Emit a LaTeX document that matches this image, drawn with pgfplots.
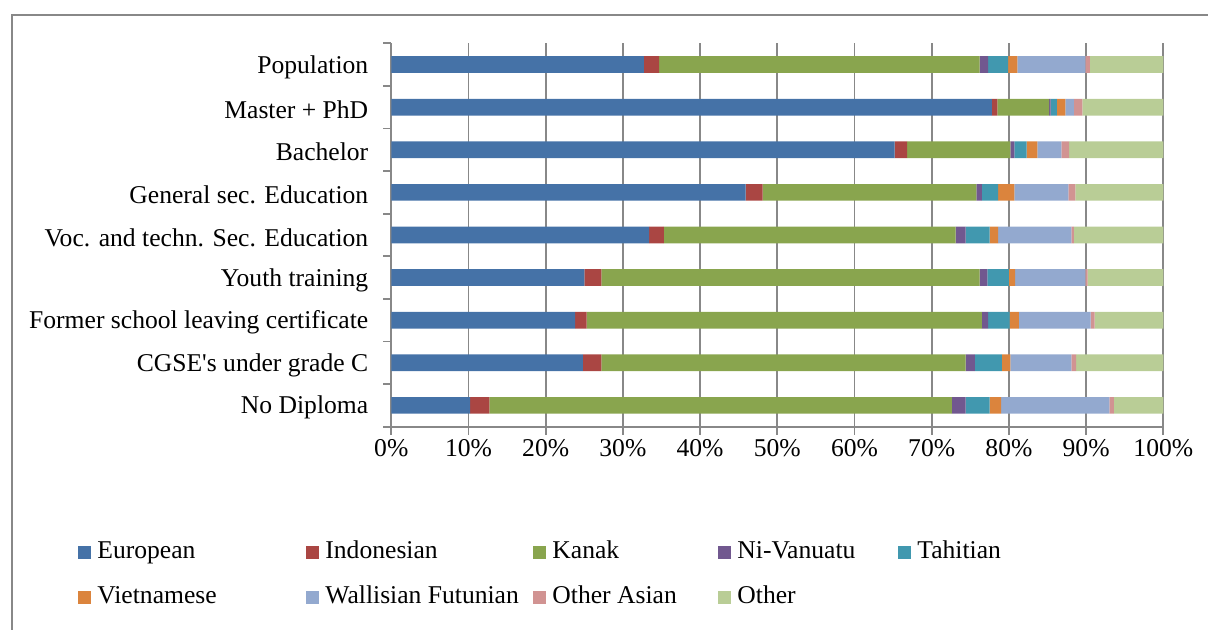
\documentclass[border=0pt]{standalone}
\usepackage{fontspec}
\setmainfont{Liberation Serif}[Ligatures=TeXOff]
\usepackage{pgfplots}
\pgfplotsset{compat=1.18}
\definecolor{cEu}{HTML}{4572A7}
\definecolor{cIn}{HTML}{AA4643}
\definecolor{cKa}{HTML}{89A54E}
\definecolor{cNV}{HTML}{71588F}
\definecolor{cTa}{HTML}{4198AF}
\definecolor{cVi}{HTML}{DB843D}
\definecolor{cWF}{HTML}{93A9CF}
\definecolor{cOA}{HTML}{D19392}
\definecolor{cOt}{HTML}{B9CD96}
\definecolor{gridc}{HTML}{888888}
\newcommand{\lA}[1]{\makebox[104.5pt][l]{#1}}
\newcommand{\lB}[1]{\makebox[104pt][l]{#1}}
\newcommand{\lC}[1]{\makebox[83pt][l]{#1}}
\newcommand{\lD}[1]{\makebox[80.5pt][l]{#1}}
\newcommand{\lE}[1]{\makebox[60pt][l]{#1}}
\begin{document}
\begin{tikzpicture}
\useasboundingbox (0,0) rectangle (604pt,315pt);
\begin{axis}[
  at={(195.65pt,101.65pt)}, anchor=south west,
  scale only axis, width=386pt, height=191.7pt,
  xbar stacked, bar width=8.35pt,
  xmin=0, xmax=100, ymin=-0.5, ymax=8.5,
  axis x line*=bottom, axis y line*=left,
  axis line style={draw=gridc, line width=0.9pt},
  tick align=outside,
  xtick={0,10,...,100},
  xticklabels={0\%,10\%,20\%,30\%,40\%,50\%,60\%,70\%,80\%,90\%,100\%},
  xmajorgrids, major grid style={draw=gridc, line width=0.9pt},
  major tick length=4pt,
  tick style={draw=gridc, line width=0.9pt},
  ytick={-0.5,0.5,1.5,2.5,3.5,4.5,5.5,6.5,7.5,8.5},
  yticklabels={},
  extra y ticks={0,1,2,3,4,5,6,7,8},
  extra y tick labels={No Diploma,CGSE's under grade C,Former school leaving certificate,Youth training,Voc. and techn. Sec. Education,General sec. Education,Bachelor,Master + PhD,Population},
  extra y tick style={major tick length=0pt, yticklabel style={xshift=-8pt, yshift=-1.2pt}},
  ticklabel style={font=\fontsize{12.8}{15}\selectfont, text=black},
  xticklabel style={yshift=1pt},
  legend columns=5,
  legend cell align=left,
  legend image code/.code={\fill[#1,draw=none] (0pt,-3.2pt) rectangle (6.5pt,3.2pt); \path (9.5pt,0pt);},
  legend style={at={(axis description cs:-0.4058,-0.3007)}, anchor=north west,
    draw=none, inner sep=0pt, column sep=0pt, row sep=12pt,
    font=\fontsize{12.8}{15}\selectfont,
    nodes={inner sep=0pt, text height=8pt, text depth=2.5pt}},
]
\addplot[fill=cEu,draw=none] coordinates {(10.2,0) (24.8,1) (23.8,2) (25.0,3) (33.4,4) (45.9,5) (65.2,6) (77.8,7) (32.7,8)};
\addplot[fill=cIn,draw=none] coordinates {(2.5,0) (2.4,1) (1.5,2) (2.2,3) (1.9,4) (2.2,5) (1.6,6) (0.7,7) (2.0,8)};
\addplot[fill=cKa,draw=none] coordinates {(59.9,0) (47.2,1) (51.2,2) (49.0,3) (37.8,4) (27.7,5) (13.4,6) (6.7,7) (41.5,8)};
\addplot[fill=cNV,draw=none] coordinates {(1.8,0) (1.2,1) (0.8,2) (1.0,3) (1.3,4) (0.7,5) (0.5,6) (0.2,7) (1.1,8)};
\addplot[fill=cTa,draw=none] coordinates {(3.1,0) (3.5,1) (2.8,2) (2.8,3) (3.1,4) (2.1,5) (1.6,6) (0.8,7) (2.6,8)};
\addplot[fill=cVi,draw=none] coordinates {(1.5,0) (1.1,1) (1.2,2) (0.8,3) (1.1,4) (2.1,5) (1.4,6) (1.1,7) (1.2,8)};
\addplot[fill=cWF,draw=none] coordinates {(14.0,0) (7.9,1) (9.3,2) (9.1,3) (9.5,4) (7.0,5) (3.1,6) (1.1,7) (8.8,8)};
\addplot[fill=cOA,draw=none] coordinates {(0.6,0) (0.6,1) (0.5,2) (0.3,3) (0.3,4) (0.9,5) (1.0,6) (1.1,7) (0.6,8)};
\addplot[fill=cOt,draw=none] coordinates {(6.4,0) (11.3,1) (8.9,2) (9.8,3) (11.6,4) (11.4,5) (12.2,6) (10.5,7) (9.5,8)};
\legend{\lA{European},\lB{Indonesian},\lC{Kanak},\lD{Ni-Vanuatu},\lE{Tahitian},\lA{Vietnamese},\lB{Wallisian Futunian},\lC{Other Asian},\lD{Other}}
\end{axis}
\draw[draw=gridc, line width=0.8pt] (6pt,0pt) -- (6pt,307.5pt) -- (604pt,307.5pt);
\end{tikzpicture}
\end{document}
